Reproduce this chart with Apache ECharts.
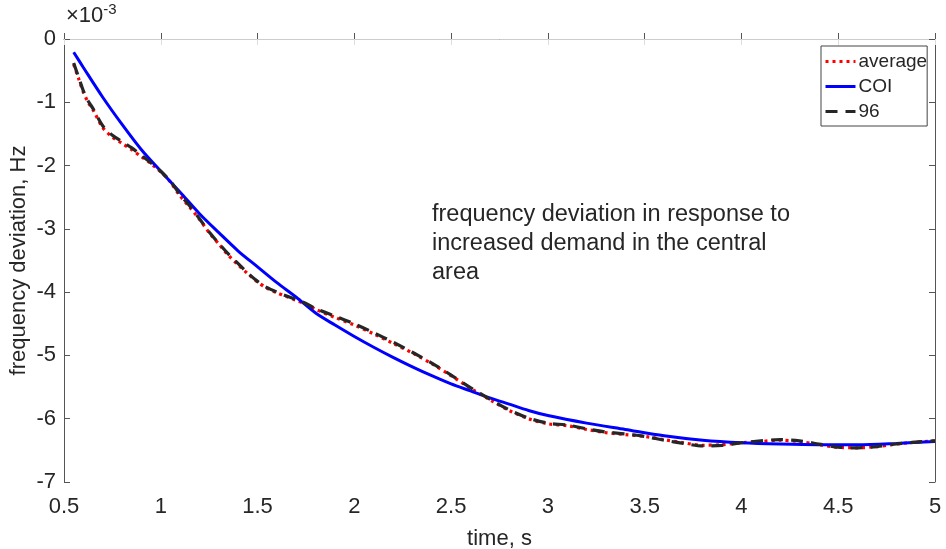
<!DOCTYPE html>
<html>
<head>
<meta charset="utf-8">
<script src="https://cdn.jsdelivr.net/npm/echarts@6/dist/echarts.min.js"></script>
<style>html,body{margin:0;padding:0;background:#fff}#c{width:946px;height:549px}</style>
</head>
<body>
<div id="c"></div>
<script>
// values in units of 1e-3 Hz
const avgTime = [0.55,0.575,0.60,0.625,0.65,0.70,0.75,0.80,0.85,0.90,0.95,1.00,1.05,1.10,1.15,1.20,1.25,1.30,1.35,1.40,1.45,1.50,1.55,1.60,1.65,1.70,1.75,1.80,1.90,2.00,2.10,2.20,2.30,2.40,2.50,2.60,2.70,2.80,2.90,3.00,3.10,3.20,3.30,3.40,3.50,3.60,3.70,3.80,3.90,4.00,4.10,4.20,4.30,4.40,4.50,4.60,4.70,4.80,4.90,5.00];
const average = [-0.40,-0.62,-0.84,-1.00,-1.12,-1.40,-1.55,-1.65,-1.75,-1.86,-1.97,-2.10,-2.26,-2.48,-2.66,-2.85,-3.06,-3.24,-3.42,-3.57,-3.71,-3.84,-3.94,-4.01,-4.07,-4.13,-4.19,-4.27,-4.40,-4.52,-4.66,-4.81,-4.96,-5.13,-5.32,-5.52,-5.70,-5.87,-6.00,-6.08,-6.11,-6.17,-6.22,-6.25,-6.28,-6.33,-6.38,-6.42,-6.41,-6.38,-6.36,-6.34,-6.36,-6.41,-6.45,-6.46,-6.44,-6.40,-6.37,-6.35];
const s96 = [-0.38,-0.60,-0.82,-0.98,-1.10,-1.37,-1.52,-1.62,-1.72,-1.84,-1.96,-2.09,-2.25,-2.46,-2.64,-2.84,-3.05,-3.23,-3.40,-3.55,-3.70,-3.83,-3.93,-4.00,-4.06,-4.12,-4.18,-4.26,-4.38,-4.50,-4.64,-4.79,-4.95,-5.12,-5.31,-5.51,-5.69,-5.86,-5.99,-6.07,-6.10,-6.16,-6.21,-6.24,-6.28,-6.34,-6.39,-6.43,-6.42,-6.38,-6.35,-6.33,-6.35,-6.40,-6.45,-6.46,-6.44,-6.40,-6.37,-6.35];
const coiTime = [0.55,0.60,0.70,0.80,0.90,1.00,1.10,1.20,1.30,1.40,1.50,1.60,1.70,1.80,1.90,2.00,2.10,2.20,2.30,2.40,2.50,2.60,2.70,2.80,2.90,3.00,3.20,3.40,3.60,3.80,4.00,4.20,4.40,4.60,4.80,5.00];
const coi = [-0.21,-0.45,-0.92,-1.35,-1.75,-2.09,-2.42,-2.76,-3.06,-3.35,-3.60,-3.85,-4.08,-4.33,-4.52,-4.70,-4.87,-5.03,-5.18,-5.32,-5.45,-5.56,-5.67,-5.77,-5.87,-5.95,-6.07,-6.17,-6.27,-6.34,-6.38,-6.40,-6.41,-6.41,-6.39,-6.36];
const seriesNames = ['average','COI','96'];
const xLabel = 'time, s';
const yLabel = 'frequency deviation, Hz';
const note = ['frequency deviation in response to','increased demand in the central','area'];

const pair = (xs, ys) => xs.map((x, i) => [x, ys[i]]);
const FONT = '"Liberation Sans", Arial, sans-serif';
const TXT = '#262626';
const chart = echarts.init(document.getElementById('c'), null, {renderer: 'canvas'});
chart.setOption({
  animation: false,
  backgroundColor: '#fff',
  grid: {left: 64, right: 11, top: 39, bottom: 67, show: false, containLabel: false, outerBoundsMode: 'none'},
  xAxis: [{
    type: 'value', min: 0.5, max: 5, interval: 0.5,
    name: xLabel, nameLocation: 'middle', nameGap: 46, nameMoveOverlap: false,
    nameTextStyle: {fontFamily: FONT, fontSize: 22, color: TXT},
    axisLine: {lineStyle: {color: '#555', width: 1}},
    axisTick: {inside: true, length: 6, lineStyle: {color: '#555'}},
    axisLabel: {fontFamily: FONT, fontSize: 22, color: TXT, margin: 14},
    splitLine: {show: false}
  }, {
    type: 'value', position: 'top', min: 0.5, max: 5, interval: 0.5,
    axisLine: {show: true, lineStyle: {color: '#ccc', width: 1}},
    axisTick: {inside: true, length: 6, lineStyle: {color: '#ddd'}},
    axisLabel: {show: false}, splitLine: {show: false}
  }],
  yAxis: [{
    type: 'value', min: -7, max: 0, interval: 1,
    name: yLabel, nameLocation: 'middle', nameGap: 34, nameRotate: 90, nameMoveOverlap: false,
    nameTextStyle: {fontFamily: FONT, fontSize: 22, color: TXT},
    axisLine: {show: true, lineStyle: {color: '#555', width: 1}},
    axisTick: {show: true, inside: true, length: 6, lineStyle: {color: '#555'}},
    axisLabel: {fontFamily: FONT, fontSize: 22, color: TXT, margin: 8},
    splitLine: {show: false}
  }, {
    type: 'value', position: 'right', min: -7, max: 0, interval: 1,
    axisLine: {show: true, lineStyle: {color: '#555', width: 1}},
    axisTick: {show: true, inside: true, length: 6, lineStyle: {color: '#555'}},
    axisLabel: {show: false}, splitLine: {show: false}
  }],
  legend: {
    orient: 'vertical', left: 821, top: 46,
    backgroundColor: '#fff', borderColor: '#444', borderWidth: 1,
    padding: [6, 0, 5, 3], itemWidth: 30, itemHeight: 14, itemGap: 6,
    itemStyle: {opacity: 0},
    lineStyle: {width: 3},
    textStyle: {fontFamily: FONT, fontSize: 19, color: TXT, padding: [0, 0, 0, -2]},
    data: seriesNames
  },
  series: [{
    name: seriesNames[0], type: 'line', data: pair(avgTime, average),
    showSymbol: false, symbol: 'none', smooth: 0.3,
    lineStyle: {color: '#ff0000', width: 3.2, type: [3, 4]}, itemStyle: {color: '#ff0000'}, z: 2
  }, {
    name: seriesNames[1], type: 'line', data: pair(coiTime, coi),
    showSymbol: false, symbol: 'none', smooth: 0.3,
    lineStyle: {color: '#0000ff', width: 3}, itemStyle: {color: '#0000ff'}, z: 3
  }, {
    name: seriesNames[2], type: 'line', data: pair(avgTime, s96),
    showSymbol: false, symbol: 'none', smooth: 0.3,
    lineStyle: {color: '#262626', width: 3.2, type: [12, 8]}, itemStyle: {color: '#262626'}, z: 4
  }],
  graphic: [{
    type: 'text', left: 66, top: 2,
    style: {
      text: '×10{sup|-3}',
      rich: {sup: {fontSize: 15, verticalAlign: 'top', padding: [0, 0, 12, 0], fontFamily: FONT, fill: TXT}},
      font: '22px ' + FONT, fill: TXT
    }
  }, {
    type: 'text', left: 432, top: 200,
    style: {text: note.join('\n'), font: '23.5px ' + FONT, fill: TXT, lineHeight: 29}
  }]
});
</script>
</body>
</html>
